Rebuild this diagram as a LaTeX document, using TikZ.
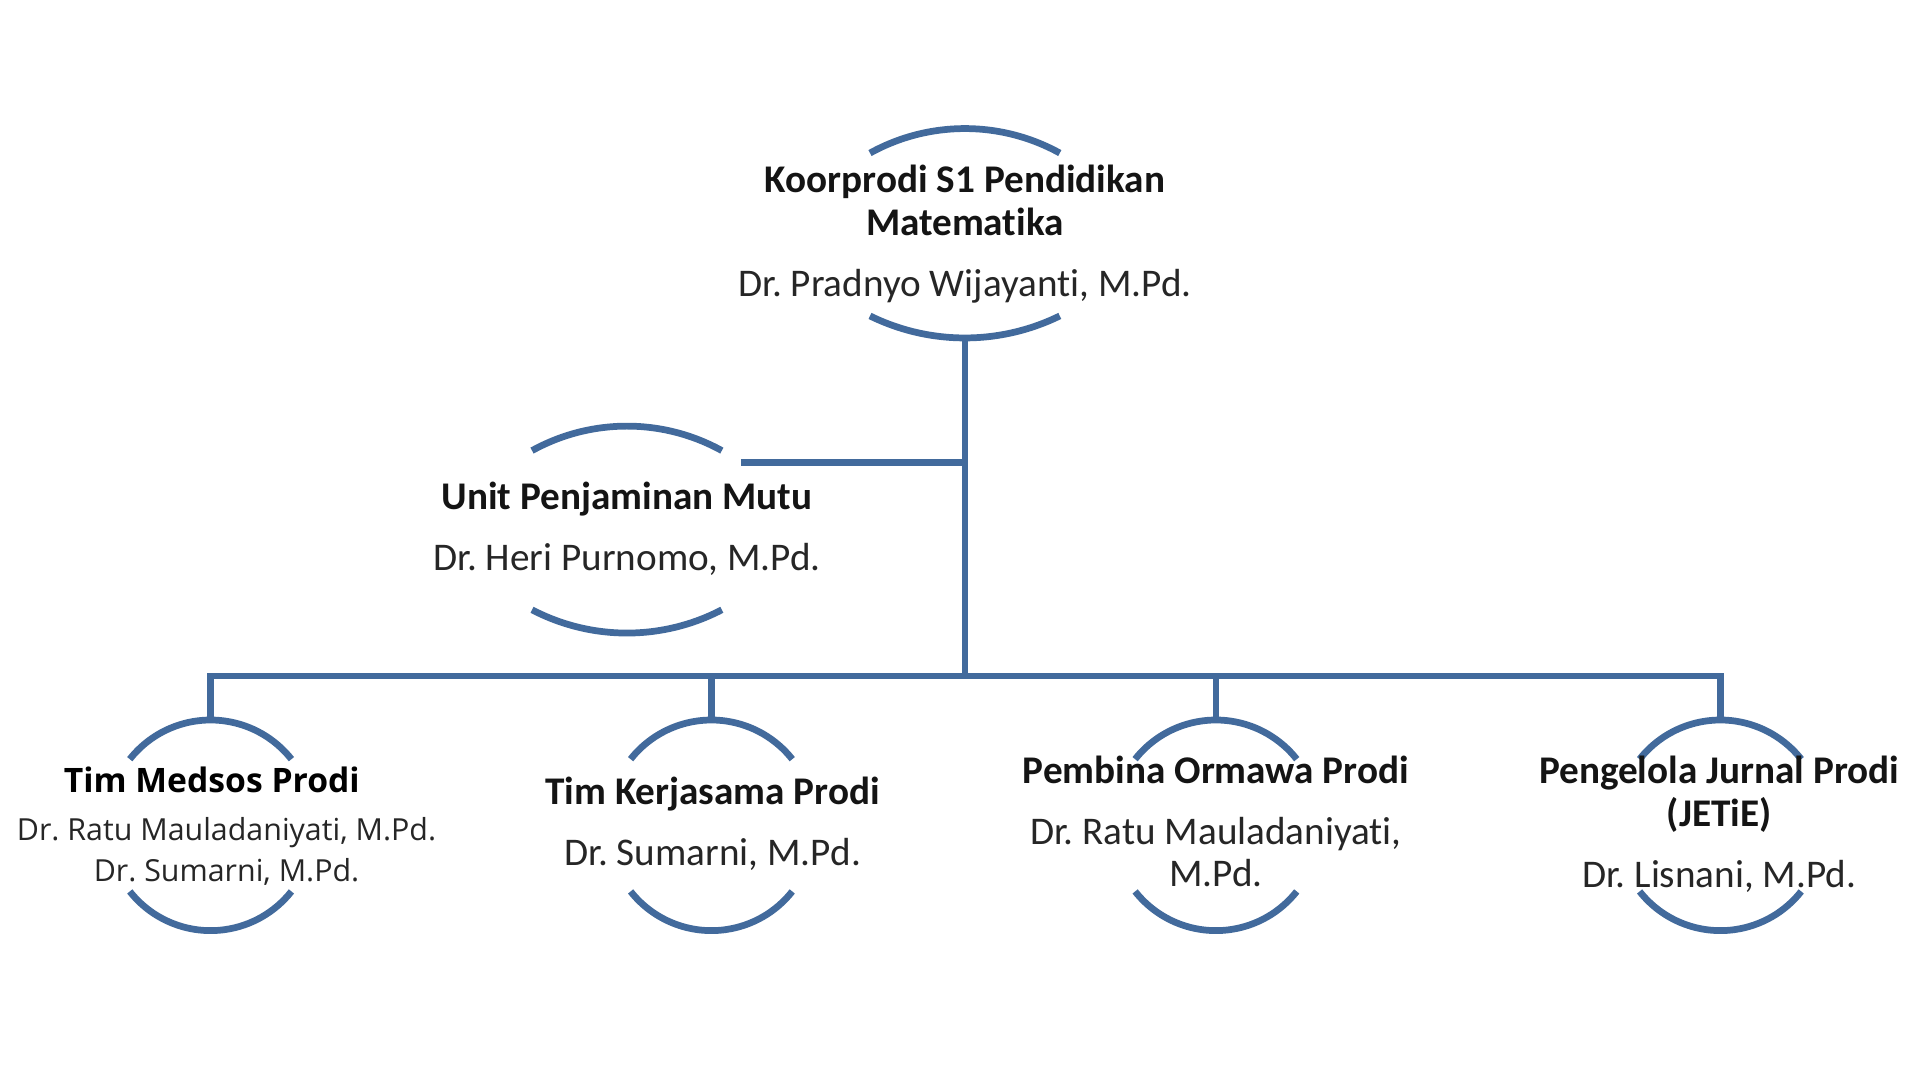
\documentclass[tikz,border=0pt]{standalone}
\usepackage{fontspec}
\setmainfont{Carlito}[Ligatures=NoCommon]
\newfontfamily\osans{Open Sans}
\frenchspacing
\definecolor{lnblue}{RGB}{66,106,156}
\newcommand\lensarc[4]{% cx, half width, end y (image), apex y (image)
  \pgfmathsetmacro\sag{abs(#4-#3)}%
  \pgfmathsetmacro\rad{(#2*#2+\sag*\sag)/(2*\sag)}%
  \pgfmathsetmacro\ang{asin(#2/\rad)}%
  \ifdim #4pt<#3pt
    \draw[lens] (#1-#2,-#3) arc[start angle=90+\ang, end angle=90-\ang, radius=\rad pt];
  \else
    \draw[lens] (#1-#2,-#3) arc[start angle=270-\ang, end angle=270+\ang, radius=\rad pt];
  \fi}
\tikzset{
  conn/.style={draw=lnblue, line width=5.5pt},
  lens/.style={draw=lnblue, line width=5.5pt},
  ttl/.style={anchor=base, inner sep=0pt, font=\fontsize{32}{38}\selectfont\bfseries, text=black!92},
  nm/.style={anchor=base, inner sep=0pt, font=\fontsize{32}{38}\selectfont, text=black!85},
  ottl/.style={anchor=base, inner sep=0pt, font=\osans\fontsize{27.5}{33}\selectfont\bfseries, text=black},
  onm/.style={anchor=base, inner sep=0pt, font=\osans\fontsize{24.8}{30}\selectfont, text=black!85}
}
\begin{document}
\begin{tikzpicture}[x=1pt,y=1pt]
\fill[white] (0,0) rectangle (1568,-882);
\useasboundingbox (0,0) rectangle (1568,-882);

% lens arcs
\lensarc{788}{77.5}{125}{105}
\lensarc{788}{77.5}{258}{276}
\lensarc{512}{77.5}{368}{348}
\lensarc{512}{77.5}{498}{517}
\foreach \cx in {172,581,993,1405}{
  \lensarc{\cx}{66}{620}{588}
  \lensarc{\cx}{66}{728}{760}
}

% texts
\node[ttl] (topT1) at (788,-157) {Koorprodi S1 Pendidikan};
\node[ttl] (topT2) at (788,-192) {Matematika};
\node[nm]  (topN)  at (788,-242) {Dr. Pradnyo Wijayanti, M.Pd.};

\node[ttl] (upmT) at (512,-416) {Unit Penjaminan Mutu};
\node[nm]  (upmN) at (512,-466) {Dr. Heri Purnomo, M.Pd.};

\node[ottl] (medT)  at (173,-647) {Tim Medsos Prodi};
\node[onm]  (medN1) at (185,-686) {Dr. Ratu Mauladaniyati, M.Pd.};
\node[onm]  (medN2) at (185,-720) {Dr. Sumarni, M.Pd.};

\node[ttl] (kerT) at (582,-657) {Tim Kerjasama Prodi};
\node[nm]  (kerN) at (582,-707) {Dr. Sumarni, M.Pd.};

\node[ttl] (ormT)  at (993,-640) {Pembina Ormawa Prodi};
\node[nm]  (ormN1) at (993,-690) {Dr. Ratu Mauladaniyati,};
\node[nm]  (ormN2) at (993,-724) {M.Pd.};

\node[ttl] (jurT1) at (1404,-640) {Pengelola Jurnal Prodi};
\node[ttl] (jurT2) at (1404,-675) {(JETiE)};
\node[nm]  (jurN)  at (1404,-725) {Dr. Lisnani, M.Pd.};

% connector points
\coordinate (topB) at (788,-276);
\coordinate (upmR) at (605,-378);
\coordinate (jU)   at (788,-378);
\coordinate (jB)   at (788,-552);
\coordinate (b1T)  at (172,-588);
\coordinate (b2T)  at (581,-588);
\coordinate (b3T)  at (993,-588);
\coordinate (b4T)  at (1405,-588);

\draw[conn] (topB) -- (jB);
\draw[conn] (upmR) -- (jU);
\draw[conn] (b1T) |- (jB) -| (b4T);
\draw[conn] (b2T) -- (b2T |- jB);
\draw[conn] (b3T) -- (b3T |- jB);
\end{tikzpicture}
\end{document}
